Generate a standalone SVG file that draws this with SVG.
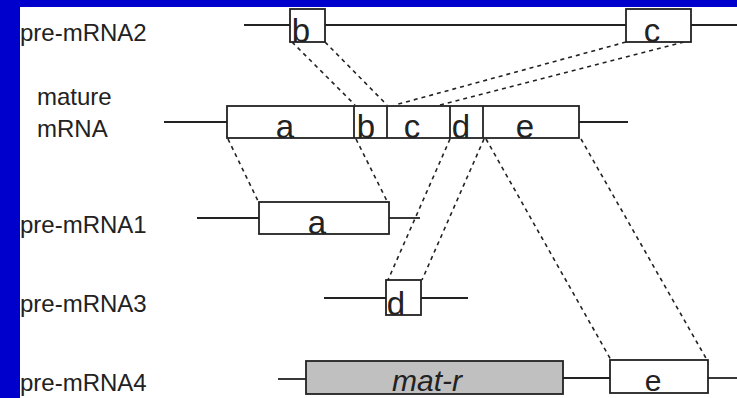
<svg xmlns="http://www.w3.org/2000/svg" width="737" height="398" viewBox="0 0 737 398">
<style>
.ln{stroke:#222;stroke-width:1.8;fill:none}
.bx{stroke:#222;stroke-width:1.8;fill:#fff}
.gr{stroke:#222;stroke-width:1.8;fill:#c0c0c0}
.ds{stroke:#222;stroke-width:1.6;fill:none;stroke-dasharray:4 4}
.lb{font-family:"Liberation Sans",Arial,sans-serif;font-size:24px;fill:#222}
.sg{font-family:"Liberation Sans",Arial,sans-serif;font-size:33px;fill:#222;text-anchor:middle}
.sm{font-size:30px}
.it{font-style:italic}
</style>
<rect x="0" y="0" width="737" height="398" fill="#0000cc"/>
<rect x="20" y="7" width="717" height="391" fill="#fff"/>

<g id="connectors">
<line class="ds" x1="292" y1="42" x2="355" y2="105"/>
<line class="ds" x1="325" y1="42" x2="387" y2="105"/>
<line class="ds" x1="626" y1="42" x2="395" y2="105"/>
<line class="ds" x1="684" y1="42" x2="440" y2="105"/>
<line class="ds" x1="228" y1="139" x2="258" y2="201"/>
<line class="ds" x1="356" y1="139" x2="387" y2="201"/>
<line class="ds" x1="450" y1="139" x2="388" y2="280"/>
<line class="ds" x1="484" y1="139" x2="422" y2="280"/>
<line class="ds" x1="486" y1="139" x2="611" y2="360"/>
<line class="ds" x1="581" y1="139" x2="707" y2="360"/>
</g>

<g id="pre-mRNA2">
<text class="lb" x="20" y="41">pre-mRNA2</text>
<line class="ln" x1="244" y1="25" x2="290" y2="25"/>
<line class="ln" x1="325" y1="25" x2="626" y2="25"/>
<line class="ln" x1="691" y1="25" x2="737" y2="25"/>
<rect class="bx" x="290" y="9" width="35" height="33"/>
<text class="sg" x="301" y="42">b</text>
<rect class="bx" x="626" y="9" width="65" height="33"/>
<text class="sg" x="652" y="42">c</text>
</g>

<g id="mature-mRNA">
<text class="lb" x="37" y="105">mature</text>
<text class="lb" x="37" y="137">mRNA</text>
<line class="ln" x1="164" y1="122" x2="227" y2="122"/>
<line class="ln" x1="579" y1="122" x2="628" y2="122"/>
<rect class="bx" x="227" y="106" width="352" height="32"/>
<line class="ln" x1="354" y1="106" x2="354" y2="138"/>
<line class="ln" x1="387" y1="106" x2="387" y2="138"/>
<line class="ln" x1="450" y1="106" x2="450" y2="138"/>
<line class="ln" x1="483" y1="106" x2="483" y2="138"/>
<text class="sg" x="285" y="138">a</text>
<text class="sg" x="366" y="138">b</text>
<text class="sg" x="412" y="138">c</text>
<text class="sg" x="461" y="138">d</text>
<text class="sg" x="525" y="138">e</text>
</g>

<g id="pre-mRNA1">
<text class="lb" x="20" y="233">pre-mRNA1</text>
<line class="ln" x1="197" y1="218" x2="259" y2="218"/>
<line class="ln" x1="389" y1="218" x2="420" y2="218"/>
<rect class="bx" x="259" y="202" width="130" height="32"/>
<text class="sg" x="317" y="234">a</text>
</g>

<g id="pre-mRNA3">
<text class="lb" x="20" y="312">pre-mRNA3</text>
<line class="ln" x1="324" y1="298" x2="386" y2="298"/>
<line class="ln" x1="421" y1="298" x2="468" y2="298"/>
<rect class="bx" x="386" y="280" width="35" height="35"/>
<text class="sg" x="396" y="315">d</text>
</g>

<g id="pre-mRNA4">
<text class="lb" x="20" y="391">pre-mRNA4</text>
<line class="ln" x1="278" y1="379" x2="306" y2="379"/>
<line class="ln" x1="563" y1="378" x2="610" y2="378"/>
<line class="ln" x1="708" y1="378" x2="737" y2="378"/>
<rect class="gr" x="306" y="361" width="257" height="33"/>
<text class="sg sm it" x="427" y="391">mat-r</text>
<rect class="bx" x="610" y="360" width="98" height="33"/>
<text class="sg sm" x="653" y="391">e</text>
</g>
</svg>
